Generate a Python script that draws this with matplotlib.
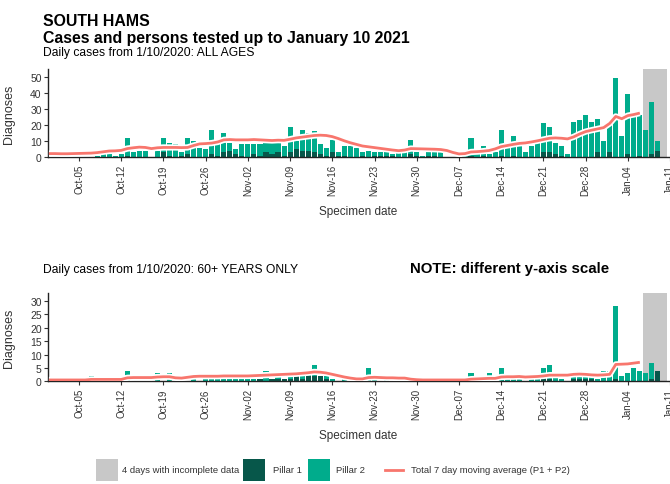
import numpy as np
import pandas as pd
import matplotlib
matplotlib.use("Agg")
import matplotlib.pyplot as plt
import matplotlib.dates as mdates
from matplotlib.patches import Rectangle
from matplotlib.lines import Line2D

plt.rcParams["font.family"] = ["Liberation Sans", "DejaVu Sans"]

# daily specimen dates and the dates covered by the 7 day average
dates = pd.date_range("2020-10-01", "2021-01-10")
avg_dates = pd.date_range("2020-09-30", "2021-01-06")
week_ticks = pd.date_range("2020-10-05", "2021-01-11", freq="7D")

# ---- all ages ----
all_p1 = [0, 0, 0, 0, 0, 0, 0, 0, 0, 0, 0, 0, 1, 0, 0, 0, 0, 0, 3, 1,
          0, 1, 2, 0, 0, 0, 2, 1, 3, 4, 2,
          1, 0, 2, 1, 3, 2, 3, 1, 3, 5, 4, 4, 3, 2, 1, 3, 1, 1, 0, 0,
          1, 0, 1, 1, 1, 1, 0, 0, 2, 1,
          0, 1, 1, 0, 0, 0, 0, 0, 1, 0, 1, 0, 0, 1, 0, 1, 0, 0, 0, 0,
          3, 3, 2, 1, 0, 0, 0, 0, 0, 3, 0,
          3, 0, 0, 2, 0, 1, 0, 2, 4, 0]
all_p2 = [0, 0, 0, 0, 0, 0, 0, 1, 2, 4, 1, 2, 11, 3, 4, 4, 0, 4, 9, 8,
          8, 2, 10, 10, 6, 5, 15, 7, 12, 5, 3,
          7, 8, 6, 7, 9, 8, 6, 6, 16, 5, 13, 11, 13, 6, 5, 8, 2, 6, 7, 6,
          2, 4, 2, 2, 2, 1, 3, 3, 9, 2,
          1, 2, 2, 3, 0, 0, 0, 1, 11, 2, 6, 2, 3, 16, 7, 12, 8, 3, 7, 9,
          18, 16, 7, 6, 2, 22, 23, 26, 22, 21, 10,
          17, 49, 13, 37, 26, 25, 17, 32, 6, 0]
all_avg = [2.3,
           2.3, 2.2, 2.2, 2.3, 2.4, 2.5, 2.6, 2.9, 3.4, 3.9, 4.0, 4.3, 5.4, 5.9, 6.3, 6.1,
           5.4, 5.9, 6.1, 6.1, 6.1, 6.0, 6.1, 7.3, 8.3, 8.5, 8.8, 9.5, 10.8, 11.0, 10.8,
           10.8, 10.8, 11.0, 10.8, 10.6, 10.4, 10.6, 10.5, 11.2, 12.0, 12.5, 13.0, 13.5,
           13.7, 13.5, 12.8, 11.6, 10.2, 9.0, 8.0, 7.0, 6.5, 6.0, 5.5, 5.0, 4.5, 4.1, 4.5,
           5.4, 5.3,
           5.2, 5.1, 5.0, 4.8, 4.2, 3.0, 2.1, 2.3, 3.3, 3.5, 3.8, 4.2, 5.2, 6.6, 7.3, 8.0,
           8.6, 8.9, 9.5, 10.2, 11.0, 11.8, 12.0, 11.8, 11.4, 12.6, 14.4, 15.9, 16.8, 17.6,
           18.4,
           21.0, 25.3, 23.9, 25.8, 26.5, 27.4]

# ---- 60+ years ----
old_p1 = [0] * 31 + \
         [0, 0, 0, 1, 0, 1, 1, 1, 1, 2, 1, 2, 2, 2, 1, 0, 0, 0, 0, 0,
          0, 0, 0, 0, 0, 0, 0, 0, 0, 0] + \
         [0, 0, 0, 0, 0, 0, 0, 0, 0, 0, 0, 0, 0, 0, 0, 0, 0, 0, 0, 0,
          1, 1, 0, 0, 0, 1, 1, 1, 1, 0, 0] + \
         [0, 1, 0, 0, 0, 0, 0, 1, 4, 0]
old_p2 = [0, 0, 0, 0, 0, 0, 2, 0, 0, 0, 0, 0, 4, 0, 0, 0, 0, 3, 0, 3,
          0, 1, 0, 1, 0, 1, 2, 1, 1, 1, 1,
          1, 1, 1, 0, 4, 0, 1, 0, 1, 2, 3, 1, 4, 0, 1, 1, 0, 1, 0, 0,
          1, 5, 1, 0, 1, 0, 1, 0, 0, 0,
          0, 0, 1, 0, 0, 0, 0, 0, 3, 0, 1, 3, 0, 5, 1, 1, 1, 0, 1, 1,
          4, 5, 2, 1, 0, 1, 3, 1, 1, 1, 4,
          4, 27, 2, 3, 5, 4, 3, 6, 0, 0]
old_avg = [0.5,
           0.5, 0.5, 0.5, 0.5, 0.5, 0.5, 0.7, 0.7, 0.7, 0.7, 0.7, 0.7, 1.3, 1.4, 1.4, 1.4,
           1.4, 1.6, 1.7, 1.7, 1.3, 1.2, 1.5, 1.8, 1.9, 1.9, 1.9, 1.9, 2.0, 2.0, 2.0,
           2.0, 2.0, 2.1, 2.2, 2.3, 2.4, 2.5, 2.6, 2.7, 2.8, 3.0, 3.2, 3.5, 3.4, 3.1, 2.6,
           2.1, 1.6, 1.2, 0.9, 0.9, 1.4, 1.5, 1.4, 1.3, 1.3, 1.2, 1.2, 0.8, 0.6,
           0.5, 0.5, 0.5, 0.5, 0.5, 0.5, 0.5, 0.5, 0.8, 0.9, 1.0, 1.1, 1.1, 1.6, 1.7, 1.7,
           1.8, 1.6, 1.7, 1.8, 2.0, 2.3, 2.3, 2.3, 2.3, 2.6, 2.7, 2.6, 2.4, 2.3, 2.4,
           2.6, 6.3, 6.4, 6.5, 6.8, 7.1]

incomplete_start, incomplete_end = "2021-01-06 12:00", "2021-01-10 12:00"

C_P1 = "#07574a"
C_P2 = "#00ac8c"
C_GREY = "#c8c8c8"
C_AVG = "#f8766d"
TXT = "#333333"

W, H = 670, 485
fig = plt.figure(figsize=(W / 100, H / 100), dpi=100)

x0 = dates[0] - pd.Timedelta(days=1.15)
x1 = dates[-1] + pd.Timedelta(days=1.3)
ax_w = 6.03 * ((x1 - x0) / pd.Timedelta(days=1)) / W


def panel(ax, p1, p2, avg, ymax, yticks):
    ax.axvspan(pd.Timestamp(incomplete_start), pd.Timestamp(incomplete_end),
               color=C_GREY, lw=0, zorder=0)
    ax.bar(dates, p1, width=0.85, color=C_P1, zorder=2)
    ax.bar(dates, p2, width=0.85, bottom=p1, color=C_P2, zorder=2)
    ax.plot(avg_dates, avg, color="white", lw=4.5, solid_capstyle="butt", zorder=3)
    ax.plot(avg_dates, avg, color=C_AVG, lw=2.0, solid_capstyle="butt", zorder=4)
    ax.set_xlim(x0, x1)
    ax.set_ylim(0, ymax)
    ax.set_yticks(yticks)
    ax.set_xticks(week_ticks)
    ax.xaxis.set_major_formatter(mdates.DateFormatter("%b-%d"))
    for s in ("top", "right"):
        ax.spines[s].set_visible(False)
    for s in ("left", "bottom"):
        ax.spines[s].set_linewidth(1.0)
        ax.spines[s].set_color("#222222")
    ax.tick_params(axis="x", labelrotation=90, labelsize=7, colors=TXT,
                   length=3, width=0.8, pad=2)
    ax.tick_params(axis="y", labelsize=7.5, colors=TXT, length=3, width=0.8, pad=1.5)
    ax.set_ylabel("Diagnoses", fontsize=9, color=TXT)
    ax.yaxis.set_label_coords(-0.053, 0.5)


ax1 = fig.add_axes([48 / W, 1 - 158.3 / H, ax_w, 88.8 / H])
panel(ax1, all_p1, all_p2, all_avg, 55, range(0, 51, 10))

ax2 = fig.add_axes([48 / W, 1 - 382.3 / H, ax_w, 88.3 / H])
panel(ax2, old_p1, old_p2, old_avg, 33, range(0, 31, 5))

# titles
fig.text(43 / W, 1 - 26 / H, "SOUTH HAMS", fontsize=11.4, fontweight="bold")
fig.text(43 / W, 1 - 42.5 / H, "Cases and persons tested up to January 10 2021",
         fontsize=11.4, fontweight="bold")
fig.text(43 / W, 1 - 56 / H, "Daily cases from 1/10/2020: ALL AGES", fontsize=8.7)
fig.text(43 / W, 1 - 273 / H, "Daily cases from 1/10/2020: 60+ YEARS ONLY", fontsize=8.7)
fig.text(410 / W, 1 - 273 / H, "NOTE: different y-axis scale", fontsize=10.8,
         fontweight="bold")
fig.text(358 / W, 1 - 212 / H, "Specimen date", fontsize=8.5, color=TXT,
         ha="center", va="center")
fig.text(358 / W, 1 - 436 / H, "Specimen date", fontsize=8.5, color=TXT,
         ha="center", va="center")

# legend
ly = 1 - 471 / H
sq_h = 22 / H
for left, col in ((96, C_GREY), (243, C_P1), (308, C_P2)):
    fig.patches.append(Rectangle((left / W, ly - sq_h / 2), 22 / W, sq_h,
                                 transform=fig.transFigure, color=col, lw=0))
fig.lines.append(Line2D([385 / W, 403 / W], [ly, ly], transform=fig.transFigure,
                        color=C_AVG, lw=2.0))
for left, label in ((122, "4 days with incomplete data"), (273, "Pillar 1"),
                    (336, "Pillar 2"), (411, "Total 7 day moving average (P1 + P2)")):
    fig.text(left / W, ly, label, fontsize=6.8, color=TXT, va="center")

fig.savefig("out.png", dpi=100)
